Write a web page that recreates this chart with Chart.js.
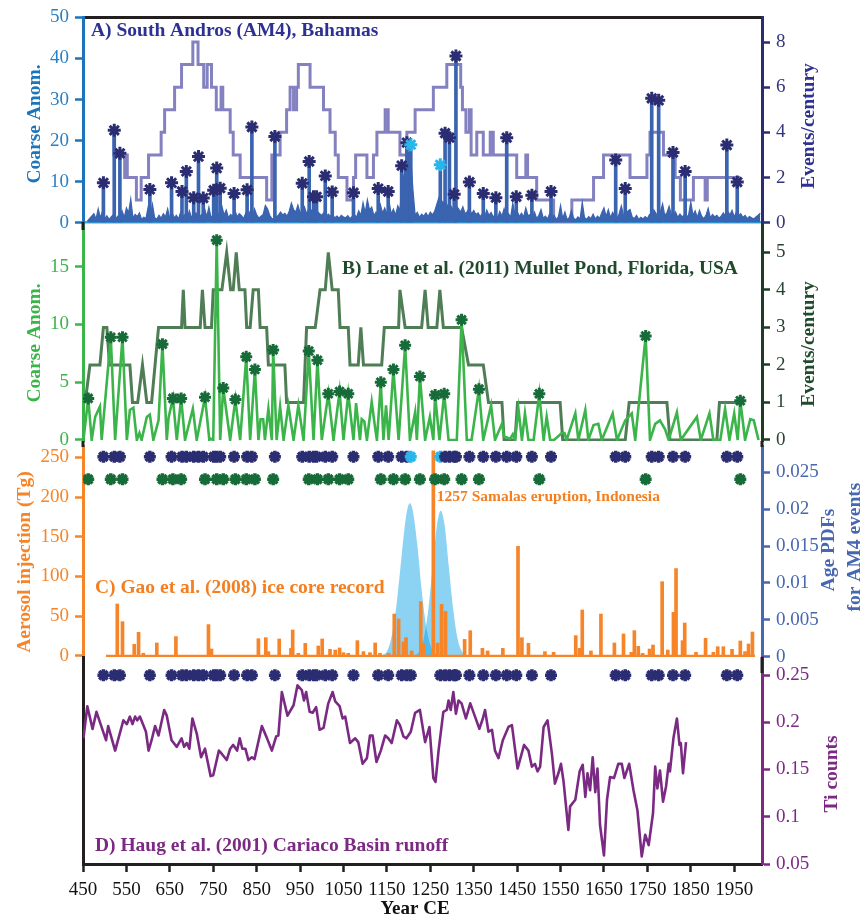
<!DOCTYPE html>
<html>
<head>
<meta charset="utf-8">
<script src="https://cdn.jsdelivr.net/npm/chart.js@4.4.1/dist/chart.umd.min.js"></script>
<style>
  html, body { margin: 0; padding: 0; background: #ffffff; }
  #wrap { position: relative; width: 868px; height: 917px; overflow: hidden; background: #ffffff; }
  #wrap canvas { position: absolute; left: 0; top: 0; }
</style>
</head>
<body>
<div id="wrap">
  <canvas id="panelA" width="868" height="917"></canvas>
  <canvas id="panelB" width="868" height="917"></canvas>
  <canvas id="panelC" width="868" height="917"></canvas>
  <canvas id="panelD" width="868" height="917"></canvas>
</div>
<script>
// ---------------- shared year axis ----------------
const yearTicks = [450, 550, 650, 750, 850, 950, 1050, 1150, 1250, 1350, 1450, 1550, 1650, 1750, 1850, 1950];

// ---------------- A) South Andros (AM4), Bahamas ----------------
// coarse-fraction anomaly, one value every 5 years starting in 460 CE
const am4CoarseStart = 460;
const am4CoarseStep = 5;
const am4Coarse = [
  0.4,1.0,1.6,2.2,0.9,3.4,1.2,2.8,1.0,1.7,0.8,1.4,2.0,0.9,1.6,1.1,2.9,1.3,3.6,2.4,
  5.8,1.2,2.0,1.5,2.4,0.8,1.3,1.0,3.8,1.6,4.5,1.2,0.9,1.8,1.1,2.2,1.4,3.4,1.0,2.5,
  1.2,1.8,0.9,2.6,1.5,2.0,1.0,2.9,1.3,1.9,2.4,1.1,1.6,2.2,3.5,1.4,3.8,1.2,2.0,1.5,
  2.6,1.1,4.0,1.9,3.1,1.2,2.0,1.5,3.0,1.4,2.2,1.7,1.0,2.4,1.6,2.8,1.3,3.4,1.9,1.1,
  1.6,2.0,4.2,3.4,1.8,1.0,0.9,1.4,1.8,2.6,1.9,2.3,1.6,2.8,4.8,3.2,2.6,4.3,2.4,3.0,
  3.9,2.2,3.4,2.8,3.5,1.9,2.7,2.2,1.8,2.5,1.4,2.1,1.6,1.9,1.2,1.6,1.1,1.8,1.4,1.2,
  1.7,1.0,1.5,2.0,1.3,2.9,1.8,4.9,2.4,5.6,3.1,3.8,1.7,2.6,1.9,4.4,2.3,3.6,2.0,5.2,
  2.1,3.3,1.8,4.1,3.0,9.5,12.0,15.5,17.0,16.0,8.0,1.9,2.5,1.3,2.1,1.6,2.4,1.5,2.6,1.9,
  2.8,4.5,6.2,5.5,4.8,5.2,4.0,4.5,3.6,3.2,4.1,3.4,2.6,3.9,2.2,2.7,3.6,2.1,3.0,2.0,
  2.4,1.5,2.2,1.3,3.1,1.8,2.5,1.4,2.0,1.2,2.7,1.6,3.4,1.5,2.2,1.3,4.8,2.0,2.8,1.5,
  2.3,1.4,3.6,1.7,2.0,1.2,2.6,1.0,1.8,3.2,1.1,1.6,0.9,2.2,1.3,1.8,0.8,1.4,4.2,1.0,
  2.6,0.8,1.2,3.0,1.1,0.7,1.4,0.9,5.0,1.3,0.8,1.5,1.0,2.1,0.9,1.6,1.1,2.4,3.6,1.5,
  3.2,1.2,2.5,1.6,1.0,2.2,4.1,1.8,1.2,2.8,3.2,1.4,1.0,1.8,0.8,1.3,0.9,1.5,1.0,2.0,
  1.5,3.1,2.2,1.6,2.7,4.6,1.8,2.4,4.0,2.0,1.5,2.6,1.3,2.1,1.4,1.9,1.2,2.0,5.0,1.8,
  2.9,1.3,3.0,1.6,1.0,1.8,3.5,1.2,2.0,1.4,1.8,1.1,1.6,2.4,1.5,2.8,1.9,3.0,1.4,2.6,
  1.7,2.2,1.3,1.8,1.0,1.5,1.2,0.9,1.4,1.8,2.3
];
// storm event layers (year CE) and their coarse anomaly
const am4EventYears = [497,522,535,604,654,678,688,705,716,727,751,758,766,798,828,839,892,955,971,981,
  988,1008,1024,1073,1130,1153,1184,1196,1205,1273,1284,1294,1305,1309,1340,1372,1401,1426,1448,1484,
  1528,1677,1699,1760,1776,1809,1837,1933,1957];
const am4EventCoarse = [9.7,22.5,16.9,8.1,9.7,7.6,12.5,6.1,16.1,6.0,7.9,13.3,8.4,7.1,8.0,23.3,21.0,9.6,14.9,6.3,
  6.3,11.4,7.5,7.3,8.3,7.6,13.9,19.5,19.0,14.1,21.8,20.7,6.9,40.6,9.9,7.1,6.1,20.7,6.3,6.7,
  7.6,15.3,8.3,30.3,29.8,17.1,12.5,18.9,9.9];
// events with their own age probability curves
const am4DatedEvents = [1205, 1273];
// events per century: [start year, rate]
const am4Rate = [[521,4],[546,3],[549,2],[552,3],[573,2],[584,1],[601,2],[630,3],[638,4],[661,5],[677,6],[703,7],
  [715,8],[728,7],[736,6],[746,7],[757,6],[768,5],[772,6],[789,5],[796,4],[812,3],[873,2],[885,1],[904,3],[919,4],
  [927,5],[935,6],[942,5],[946,6],[973,7],[1004,6],[1019,5],[1031,4],[1038,3],[1058,2],[1073,1],[1078,2],[1104,3],
  [1119,2],[1127,3],[1146,4],[1153,5],[1180,4],[1196,3],[1215,4],[1257,5],[1288,6],[1320,7],[1324,6],[1332,5],
  [1340,4],[1344,5],[1357,3],[1372,4],[1388,3],[1395,4],[1449,3],[1470,2],[1474,3],[1495,2],[1534,1],[1576,0],
  [1626,1],[1649,2],[1710,3],[1749,2],[1756,3],[1787,4],[1814,3],[1826,2],[1856,1],[1883,2],[1888,1],[1906,2],[1964,2]];
const am4CoarseTicks = [0, 10, 20, 30, 40, 50];
const am4RateTicks = [0, 2, 4, 6, 8];

// ---------------- B) Mullet Pond, Florida ----------------
const mulletEventYears = [462,514,541,633,657,676,731,758,773,801,826,846,888,970,990,1015,1041,1061,1136,1165,
  1192,1226,1261,1282,1322,1362,1501,1746,1964];
const mulletEventCoarse = [3.6,8.9,8.9,8.3,3.6,3.6,3.7,17.3,4.5,3.5,7.2,6.1,7.8,7.7,6.9,4.0,4.2,4.0,5.0,6.1,
  8.2,5.5,3.9,4.0,10.4,4.4,4.0,9.0,3.4];
// coarse anomaly between the event layers: [year, value]
const mulletCoarse = [[451,0],[470,0],[478,2.0],[489,2.9],[493,0],[524,0],[551,0],[558,2.6],[566,2.8],[574,0],
  [580,0.6],[585,0],[597,2.0],[604,2.2],[612,0],[624,1.7],[643,0],[647,1.9],[666,0],[685,0],[703,2.7],[712,0],
  [741,0],[744,0.1],[750,0],[766,0],[789,0],[812,0],[835,0],[854,0],[859,1.8],[865,1.8],[869,0],[877,2.7],[885,0],
  [896,0],[904,2.9],[912,0],[923,3.0],[935,0],[946,3.0],[958,0],[981,0],[1000,0],[1027,0],[1050,0],[1073,0],
  [1079,3.2],[1088,0],[1092,1.8],[1098,1.6],[1104,0],[1115,3.3],[1123,1.0],[1127,0],[1142,0],[1148,3.0],[1154,0],
  [1177,0],[1203,0],[1215,2.4],[1219,0],[1238,0],[1249,2.0],[1257,0],[1271,0],[1292,0],[1311,0],[1334,0],[1345,0],
  [1372,0],[1390,3.0],[1399,0],[1415,1.4],[1420,0.3],[1434,0.1],[1440,0.5],[1445,0],[1453,2.7],[1461,0],[1468,2.3],
  [1476,0],[1488,0],[1511,0],[1518,2.0],[1526,0],[1535,0],[1553,0.6],[1559,0.6],[1564,0],[1584,2.3],[1591,0],
  [1607,2.6],[1614,0],[1626,1.3],[1637,1.4],[1645,0],[1670,2.3],[1680,0],[1699,1.7],[1714,2.3],[1722,0],[1756,0],
  [1768,1.4],[1779,1.7],[1791,0.9],[1799,0],[1818,2.4],[1827,0],[1864,2.0],[1873,0],[1893,2.3],[1902,0],[1918,0],
  [1929,2.7],[1939,0],[1950,2.3],[1958,0],[1975,0],[1987,1.8],[1995,1.7],[2006,0]];
const mulletRate = [[455,1],[466,2],[489,2],[497,3],[505,3],[511,2],[558,2],[564,1],[576,1],[587,2],[597,1],[608,1],
  [616,2],[624,3],[677,3],[681,4],[685,3],[720,3],[725,4],[731,3],[746,3],[750,4],[770,4],[781,5],[790,4],[796,4],
  [803,5],[810,4],[823,4],[827,3],[835,3],[842,4],[854,4],[858,3],[873,3],[877,2],[915,2],[919,1],[958,1],[965,3],
  [985,3],[996,4],[1008,4],[1015,5],[1024,4],[1038,4],[1042,3],[1061,3],[1065,2],[1084,2],[1090,3],[1096,2],
  [1138,2],[1144,3],[1177,3],[1180,4],[1192,3],[1230,3],[1238,4],[1245,3],[1265,3],[1272,4],[1280,3],[1322,3],
  [1338,2],[1372,2],[1384,1],[1415,1],[1420,0],[1445,0],[1451,1],[1549,1],[1555,0],[1699,0],[1708,1],[1795,1],
  [1802,0],[1910,0],[1916,1],[1964,1]];
const mulletCoarseTicks = [0, 5, 10, 15];
const mulletRateTicks = [0, 1, 2, 3, 4, 5];

// ---------------- C) Gao et al. (2008) volcanic aerosol ----------------
const gaoAerosol = [[529,65.4],[541,43.2],[568,14.7],[578,29.8],[589,3.4],[620,16.4],[664,24.4],[739,39.5],[746,8.8],
  [854,21.8],[871,23.1],[877,5.5],[902,21.4],[929,9.6],[933,32.7],[946,3.4],[962,15.9],[992,12.6],[1001,21.4],
  [1019,8.4],[1031,7.5],[1041,10.1],[1050,4.2],[1061,3.4],[1082,19.3],[1096,5.5],[1111,4.2],[1123,16.4],[1134,3.4],
  [1154,3.4],[1167,52.8],[1177,46.5],[1188,17.6],[1194,23.1],[1207,6.3],[1228,68.3],[1234,15.9],[1257,258],
  [1267,16.2],[1276,65],[1285,56],[1329,20.9],[1342,31.8],[1370,9.6],[1382,6.3],[1417,9.6],[1452,138],[1461,23],
  [1476,16],[1514,5.5],[1534,4.6],[1585,25.6],[1594,9.6],[1600,57.9],[1620,6.3],[1643,52.8],[1674,16.4],[1695,27.7],
  [1713,4.6],[1720,31.9],[1729,12.2],[1739,3.4],[1755,8.8],[1763,13.8],[1784,93.5],[1797,7.5],[1810,55],[1816,110],
  [1831,19.3],[1836,41.5],[1862,4.6],[1884,22.2],[1902,4.6],[1912,11.7],[1925,11.7],[1945,8.4],[1964,18.9],
  [1975,5.5],[1983,15.1],[1992,30.2]];
const gaoRecordSpan = [503, 1998];
const samalasYear = 1257;
// age probability density of the two dated AM4 events
const agePdf1205 = [[1140,0.0002],[1150,0.0007],[1160,0.0025],[1170,0.0060],[1180,0.0114],[1190,0.0171],[1197,0.0200],
  [1203,0.0208],[1210,0.0197],[1220,0.0152],[1230,0.0091],[1240,0.0043],[1250,0.0016],[1260,0.0005],[1270,0.0001]];
const agePdf1273 = [[1215,0.0002],[1225,0.0007],[1235,0.0025],[1245,0.0062],[1255,0.0120],[1265,0.0177],[1274,0.0198],
  [1283,0.0178],[1293,0.0120],[1303,0.0063],[1313,0.0024],[1323,0.0007],[1333,0.0001]];
const aerosolTicks = [0, 50, 100, 150, 200, 250];
const pdfTicks = [0, 0.005, 0.01, 0.015, 0.02, 0.025];

// ---------------- D) Haug et al. (2001) Cariaco Basin ----------------
const haugTi = [[451,0.183],[460,0.217],[472,0.193],[481,0.211],[503,0.181],[508,0.196],[524,0.170],[543,0.202],
  [551,0.198],[558,0.206],[564,0.198],[570,0.206],[575,0.202],[581,0.206],[595,0.190],[601,0.170],[608,0.181],
  [616,0.196],[624,0.186],[637,0.213],[643,0.207],[654,0.181],[666,0.174],[677,0.183],[683,0.174],[689,0.178],
  [695,0.172],[702,0.204],[712,0.188],[722,0.163],[731,0.172],[744,0.143],[750,0.144],[763,0.170],[769,0.167],
  [781,0.160],[789,0.172],[796,0.176],[805,0.170],[811,0.183],[817,0.172],[824,0.172],[831,0.160],[839,0.163],
  [845,0.161],[862,0.196],[873,0.184],[885,0.170],[895,0.185],[900,0.186],[908,0.232],[921,0.207],[935,0.218],
  [944,0.239],[954,0.234],[959,0.223],[964,0.232],[972,0.211],[979,0.210],[987,0.216],[995,0.192],[1004,0.194],
  [1015,0.220],[1025,0.232],[1031,0.222],[1041,0.217],[1048,0.204],[1054,0.206],[1065,0.178],[1077,0.183],
  [1084,0.179],[1094,0.156],[1104,0.162],[1111,0.186],[1117,0.186],[1126,0.158],[1136,0.170],[1146,0.186],
  [1153,0.183],[1161,0.178],[1173,0.202],[1180,0.197],[1188,0.185],[1195,0.183],[1205,0.190],[1215,0.210],
  [1226,0.213],[1238,0.179],[1248,0.195],[1257,0.141],[1262,0.137],[1269,0.170],[1280,0.211],[1288,0.213],
  [1292,0.223],[1297,0.213],[1303,0.232],[1309,0.209],[1315,0.223],[1322,0.220],[1332,0.204],[1342,0.220],
  [1353,0.206],[1363,0.193],[1371,0.204],[1376,0.213],[1384,0.190],[1392,0.192],[1399,0.170],[1407,0.162],
  [1417,0.181],[1430,0.195],[1438,0.197],[1451,0.151],[1466,0.176],[1476,0.170],[1484,0.153],[1491,0.156],
  [1497,0.148],[1503,0.153],[1511,0.195],[1520,0.202],[1530,0.167],[1537,0.135],[1545,0.146],[1551,0.156],
  [1557,0.137],[1568,0.086],[1572,0.111],[1584,0.118],[1594,0.148],[1601,0.155],[1607,0.121],[1612,0.146],
  [1618,0.128],[1624,0.163],[1630,0.126],[1635,0.151],[1641,0.091],[1650,0.059],[1657,0.118],[1664,0.142],
  [1673,0.141],[1683,0.156],[1691,0.156],[1697,0.141],[1708,0.156],[1718,0.128],[1727,0.107],[1737,0.058],
  [1745,0.081],[1753,0.070],[1763,0.104],[1768,0.153],[1773,0.130],[1779,0.149],[1786,0.116],[1793,0.132],
  [1799,0.156],[1802,0.148],[1810,0.183],[1818,0.204],[1824,0.176],[1827,0.178],[1832,0.146],[1839,0.179]];
const tiTicks = [0.05, 0.1, 0.15, 0.2, 0.25];

// ---------------- styling ----------------
const SERIF = "'Liberation Serif', 'Times New Roman', serif";
const C = {
  black: '#231f20',
  navy: '#2b2d72', navyText: '#2e3192', navyLabel: '#34367c',
  blueAxis: '#1c75bc', blueLabel: '#2b80c5', blueFill: '#3a64b0', cyan: '#29b6ea', cyanAxis: '#2cb0e6',
  lavender: '#8481c1',
  green: '#3bb54a', greenStar: '#176b38', greenStep: '#4f7d56', greenAxis: '#1f3d26', greenTitle: '#1f4a2b',
  orange: '#f68428', orangeText: '#f47f20',
  pdf: 'rgba(5,158,229,0.46)', blueC: '#4767b1',
  purple: '#7b2a83'
};
const YEAR_MIN = 450, YEAR_MAX = 2014;

const toPts = arr => arr.map(([x, y]) => ({ x, y }));

function yScale(o) {
  const hasTicks = o.ticks.length > 0;
  return {
    type: 'linear', position: o.pos, min: o.min, max: o.max, offset: false,
    afterFit: s => { s.width = o.pos === 'left' ? 83 : 106; },
    afterBuildTicks: s => { s.ticks = o.ticks.map(v => ({ value: v })); },
    border: { display: true, color: o.axis, width: 3 },
    grid: { display: hasTicks, drawOnChartArea: false, drawTicks: true, tickLength: 8, tickWidth: 2.5, tickColor: o.axis },
    ticks: { display: hasTicks, color: o.label, padding: 6, font: { family: SERIF, size: 19 }, callback: v => String(v) }
  };
}
// bar datasets would otherwise pad the year axis, so offsets are switched off everywhere
function hiddenX() {
  return { type: 'linear', min: YEAR_MIN, max: YEAR_MAX, offset: false, grid: { offset: false }, display: false };
}
function borderX(position, color, width) {
  return {
    type: 'linear', position, min: YEAR_MIN, max: YEAR_MAX, z: 1, offset: false,
    afterFit: s => { s.height = 0; },
    border: { display: true, color, width },
    grid: { display: false, drawTicks: false, offset: false },
    ticks: { display: false }
  };
}

// text placed on the canvas (panel captions, axis titles, annotations)
const panelText = {
  id: 'panelText',
  afterDraw(chart, args, opts) {
    const ctx = chart.ctx;
    (opts.joints || []).forEach(j => {
      ctx.save();
      ctx.strokeStyle = C.black; ctx.lineWidth = 3;
      ctx.beginPath(); ctx.moveTo(j[0], j[1]); ctx.lineTo(j[0], j[2]); ctx.stroke();
      ctx.restore();
    });
    (opts.items || []).forEach(it => {
      ctx.save();
      ctx.font = `${it.weight || 'bold'} ${it.size || 19.5}px ${SERIF}`;
      ctx.fillStyle = it.color;
      ctx.textAlign = it.align || 'left';
      ctx.textBaseline = 'alphabetic';
      const p = typeof it.at === 'function' ? it.at(chart) : it.at;
      ctx.translate(p[0], p[1]);
      if (it.rotate) ctx.rotate(-Math.PI / 2);
      ctx.fillText(it.text, 0, 0);
      ctx.restore();
    });
  }
};

function baseOptions(padding, scales, textOpts) {
  return {
    responsive: false, animation: false, devicePixelRatio: 1, events: [],
    layout: { padding },
    scales,
    plugins: { legend: { display: false }, tooltip: { enabled: false }, panelText: textOpts }
  };
}

// ---------------- Panel A ----------------
const am4EventPts = am4EventYears.map((yr, i) => ({ x: yr, y: am4EventCoarse[i] }));
const am4StarColors = am4EventYears.map(yr => am4DatedEvents.includes(yr) ? C.cyan : C.navy);
const am4CoarsePts = am4Coarse.map((v, i) => ({ x: am4CoarseStart + i * am4CoarseStep, y: v }));

new Chart(document.getElementById('panelA'), {
  type: 'scatter',
  data: { datasets: [
    { type: 'scatter', data: am4EventPts, xAxisID: 'x', yAxisID: 'y', pointStyle: 'star', pointRadius: 6.5,
      pointBorderWidth: 3, pointBorderColor: am4StarColors, pointBackgroundColor: am4StarColors, order: 0 },
    { type: 'bar', data: am4EventPts, xAxisID: 'x', yAxisID: 'y', backgroundColor: C.blueFill, barThickness: 3, order: 1 },
    { type: 'line', data: am4CoarsePts, xAxisID: 'x', yAxisID: 'y', borderColor: C.blueFill, borderWidth: 1.2,
      backgroundColor: C.blueFill, fill: 'origin', pointRadius: 0, tension: 0, order: 2 },
    { type: 'line', data: toPts(am4Rate), xAxisID: 'x', yAxisID: 'yR', borderColor: C.lavender, borderWidth: 3,
      stepped: 'after', pointRadius: 0, fill: false, order: 3 }
  ]},
  options: baseOptions({ top: 15, bottom: 694.3, left: 0, right: 0 }, {
    x: borderX('bottom', C.cyanAxis, 2.5),
    xTop: borderX('top', C.black, 3),
    y: yScale({ pos: 'left', min: 0, max: 50, ticks: am4CoarseTicks, axis: C.blueAxis, label: C.blueLabel }),
    yR: yScale({ pos: 'right', min: 0, max: 9.09, ticks: am4RateTicks, axis: C.navy, label: C.navyLabel })
  }, { items: [
    { text: 'A) South Andros (AM4), Bahamas', at: [91, 36], color: C.navyText },
    { text: 'Coarse Anom.', at: [40, 124], rotate: true, align: 'center', color: C.blueAxis },
    { text: 'Events/century', at: [814, 126], rotate: true, align: 'center', color: C.navyText }
  ]}),
  plugins: [panelText]
});

// ---------------- Panel B ----------------
const mulletEventPts = mulletEventYears.map((yr, i) => ({ x: yr, y: mulletEventCoarse[i] }));
const mulletLinePts = toPts(mulletCoarse).concat(mulletEventPts).sort((a, b) => a.x - b.x);

new Chart(document.getElementById('panelB'), {
  type: 'scatter',
  data: { datasets: [
    { type: 'scatter', data: mulletEventPts, xAxisID: 'x', yAxisID: 'y', pointStyle: 'star', pointRadius: 6,
      pointBorderWidth: 3, pointBorderColor: C.greenStar, pointBackgroundColor: C.greenStar, order: 0 },
    { type: 'line', data: mulletLinePts, xAxisID: 'x', yAxisID: 'y', borderColor: C.green, borderWidth: 2.6,
      pointRadius: 0, fill: false, tension: 0, order: 1 },
    { type: 'line', data: toPts(mulletRate), xAxisID: 'x', yAxisID: 'yR', borderColor: C.greenStep, borderWidth: 3,
      pointRadius: 0, fill: false, tension: 0, order: 2 }
  ]},
  options: baseOptions({ top: 224, bottom: 476, left: 0, right: 0 }, {
    x: hiddenX(),
    y: yScale({ pos: 'left', min: -0.087, max: 18.7, ticks: mulletCoarseTicks, axis: C.green, label: C.green }),
    yR: yScale({ pos: 'right', min: -0.027, max: 5.754, ticks: mulletRateTicks, axis: C.greenAxis, label: '#2a4431' })
  }, { items: [
    { text: 'B) Lane et al. (2011) Mullet Pond, Florida, USA', at: [342, 274], color: C.greenTitle },
    { text: 'Coarse Anom.', at: [40, 343], rotate: true, align: 'center', color: C.green },
    { text: 'Events/century', at: [814, 344], rotate: true, align: 'center', color: C.greenTitle }
  ]}),
  plugins: [panelText]
});

// ---------------- Panel C ----------------
const ROW_AM4_C = 250.7, ROW_MULLET_C = 222.3;
const aerosolPts = toPts(gaoAerosol);

new Chart(document.getElementById('panelC'), {
  type: 'scatter',
  data: { datasets: [
    { type: 'scatter', data: am4EventYears.map(yr => ({ x: yr, y: ROW_AM4_C })), xAxisID: 'x', yAxisID: 'y',
      pointStyle: 'star', pointRadius: 6, pointBorderWidth: 3.5, pointBorderColor: am4StarColors, order: 0 },
    { type: 'scatter', data: mulletEventYears.map(yr => ({ x: yr, y: ROW_MULLET_C })), xAxisID: 'x', yAxisID: 'y',
      pointStyle: 'star', pointRadius: 6, pointBorderWidth: 3.5, pointBorderColor: C.greenStar, order: 0 },
    { type: 'bar', data: aerosolPts, xAxisID: 'x', yAxisID: 'y', backgroundColor: C.orange, barThickness: 3, order: 1 },
    { type: 'line', data: gaoRecordSpan.map(yr => ({ x: yr, y: 0 })), xAxisID: 'x', yAxisID: 'y',
      borderColor: C.orange, borderWidth: 2.5, pointRadius: 0, fill: false, order: 1 },
    { type: 'line', data: toPts(agePdf1205), xAxisID: 'x', yAxisID: 'yR', borderWidth: 0, borderColor: 'rgba(0,0,0,0)',
      backgroundColor: C.pdf, fill: 'origin', pointRadius: 0, cubicInterpolationMode: 'monotone', order: 2 },
    { type: 'line', data: toPts(agePdf1273), xAxisID: 'x', yAxisID: 'yR', borderWidth: 0, borderColor: 'rgba(0,0,0,0)',
      backgroundColor: C.pdf, fill: 'origin', pointRadius: 0, cubicInterpolationMode: 'monotone', order: 2 }
  ]},
  options: baseOptions({ top: 446, bottom: 260, left: 0, right: 0 }, {
    x: hiddenX(),
    y: yScale({ pos: 'left', min: -1.26, max: 264.2, ticks: aerosolTicks, axis: C.orange, label: C.orange }),
    yR: yScale({ pos: 'right', min: -0.00004, max: 0.028566, ticks: pdfTicks, axis: C.blueC, label: C.blueC })
  }, { items: [
    { text: 'C) Gao et al. (2008) ice core record', at: [95, 593], color: C.orangeText },
    { text: `${samalasYear} Samalas eruption, Indonesia`, size: 15.5, color: C.orangeText,
      at: ch => [ch.scales.x.getPixelForValue(samalasYear) + 3.5, 501] },
    { text: 'Aerosol injection (Tg)', at: [30, 562], rotate: true, align: 'center', color: C.orange },
    { text: 'Age PDFs', at: [834, 550], rotate: true, align: 'center', color: C.blueC },
    { text: 'for AM4 events', at: [860, 547], rotate: true, align: 'center', color: C.blueC }
  ]}),
  plugins: [panelText]
});

// ---------------- Panel D ----------------
const ROW_AM4_D = 0.2497;

new Chart(document.getElementById('panelD'), {
  type: 'scatter',
  data: { datasets: [
    { type: 'scatter', data: am4EventYears.map(yr => ({ x: yr, y: ROW_AM4_D })), xAxisID: 'x', yAxisID: 'y',
      pointStyle: 'star', pointRadius: 6, pointBorderWidth: 3.5, pointBorderColor: C.navy, order: 0 },
    { type: 'line', data: toPts(haugTi), xAxisID: 'x', yAxisID: 'y', borderColor: C.purple, borderWidth: 2.6,
      pointRadius: 0, fill: false, tension: 0, borderJoinStyle: 'round', order: 1 }
  ]},
  options: baseOptions({ top: 657, bottom: 0, left: 0, right: 0 }, {
    x: {
      type: 'linear', position: 'bottom', min: YEAR_MIN, max: YEAR_MAX, offset: false,
      afterFit: s => { s.height = 53; },
      afterBuildTicks: s => { s.ticks = yearTicks.map(v => ({ value: v })); },
      border: { display: true, color: C.black, width: 3 },
      grid: { display: true, drawOnChartArea: false, drawTicks: true, tickLength: 8, tickWidth: 2.5, tickColor: C.black },
      ticks: { color: '#111111', padding: 7, autoSkip: false, maxRotation: 0, minRotation: 0,
        font: { family: SERIF, size: 19 }, callback: v => String(v) }
    },
    yL: yScale({ pos: 'left', min: 0, max: 1, ticks: [], axis: C.black, label: C.black }),
    y: yScale({ pos: 'right', min: 0.05, max: 0.26905, ticks: tiTicks, axis: C.purple, label: C.purple })
  }, {
    joints: [[83, 222, 230], [83, 441, 447], [762, 441, 447], [762, 657, 673]],
    items: [
      { text: 'D) Haug et al. (2001) Cariaco Basin runoff', at: [95, 851], color: C.purple },
      { text: 'Ti counts', at: [837, 774], rotate: true, align: 'center', color: C.purple },
      { text: 'Year CE', at: [415, 914], align: 'center', size: 19, color: '#111111' }
    ]
  }),
  plugins: [panelText]
});
</script>
</body>
</html>
